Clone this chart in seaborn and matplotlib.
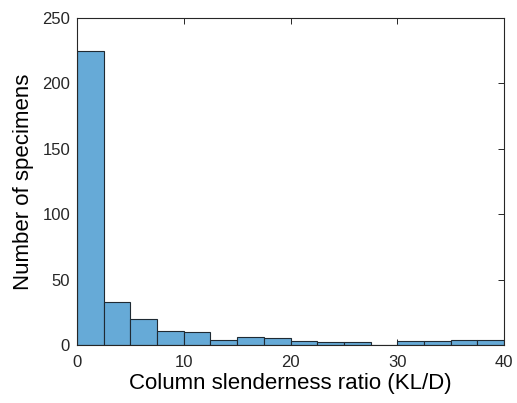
import matplotlib
matplotlib.use("Agg")
import matplotlib.pyplot as plt
import seaborn as sns
import numpy as np
import pandas as pd

bin_edges = [0, 2.5, 5, 7.5, 10, 12.5, 15, 17.5, 20, 22.5, 25, 27.5, 30, 32.5, 35, 37.5, 40]
counts = [225, 33, 20, 11, 10, 4, 6, 5, 3, 2, 2, 0, 3, 3, 4, 4]
x_ticks = [0, 10, 20, 30, 40]
y_ticks = [0, 50, 100, 150, 200, 250]

sns.set_style("white")
plt.rcParams['font.family'] = ['Liberation Sans', 'DejaVu Sans']

centers = [(a + b) / 2 for a, b in zip(bin_edges[:-1], bin_edges[1:])]
df = pd.DataFrame({"ratio": centers, "count": counts})

fig = plt.figure(figsize=(5.17, 4.03), dpi=100)
ax = fig.add_axes([77/517, 1 - 345/403, (504-77)/517, (345-18)/403])
sns.histplot(data=df, x="ratio", weights="count", bins=bin_edges, ax=ax,
             color="#66AAD7", alpha=1.0, edgecolor="#1f2a33", linewidth=0.8)
ax.set_xlim(0, 40)
ax.set_ylim(0, 250)
ax.set_xticks(x_ticks)
ax.set_yticks(y_ticks)
ax.tick_params(direction="in", length=4, width=0.7, colors="#262626", labelsize=12,
               top=True, right=True, bottom=True, left=True)
ax.tick_params(axis="x", pad=7)
ax.tick_params(axis="y", pad=5)
for s in ax.spines.values():
    s.set_visible(True)
    s.set_color("#262626")
    s.set_linewidth(0.8)
ax.set_xlabel("Column slenderness ratio (KL/D)", fontsize=16, color="black", labelpad=2)
ax.set_ylabel("Number of specimens", fontsize=16, color="black", labelpad=6)
fig.savefig("out.png", dpi=100)
